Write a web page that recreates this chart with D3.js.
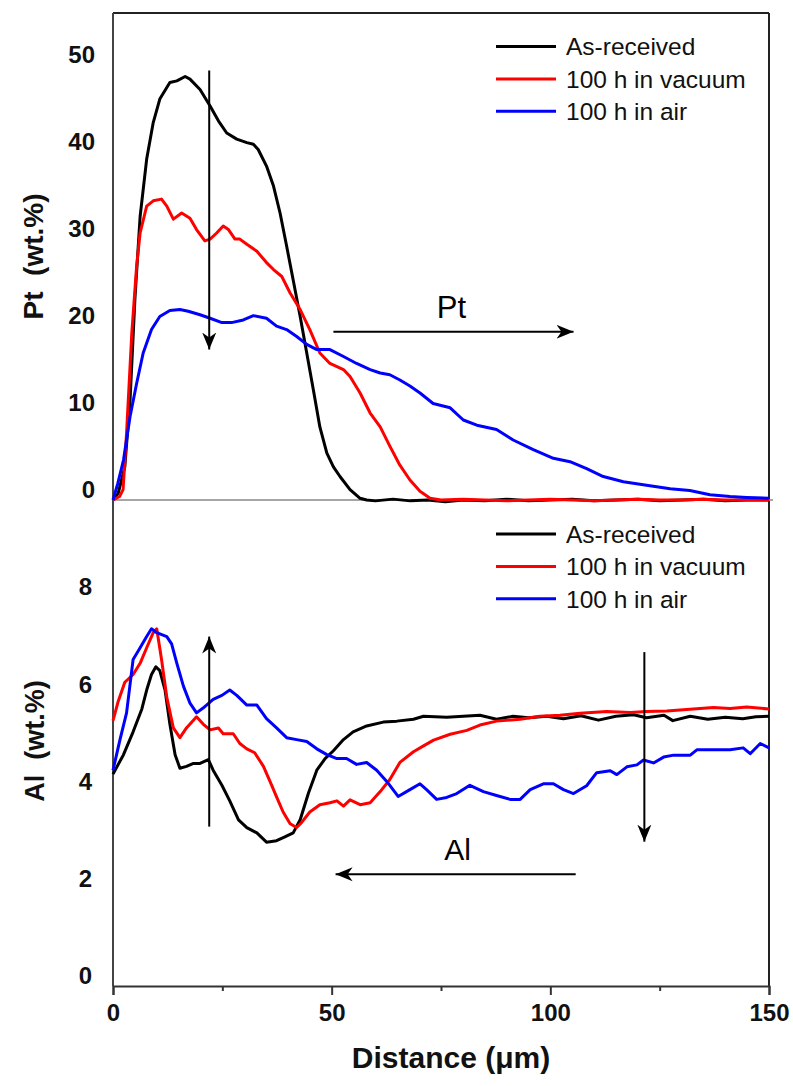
<!DOCTYPE html>
<html>
<head>
<meta charset="utf-8">
<script src="https://cdn.jsdelivr.net/npm/d3@7"></script>
<style>
  body { margin: 0; background: #fff; }
  svg { display: block; font-family: "Liberation Sans", Arial, sans-serif; }
</style>
</head>
<body>
<svg id="chart" width="793" height="1086"></svg>
<script>
// ---- data: [distance (um), wt.%] ----
var seriesNames = ["As-received", "100 h in vacuum", "100 h in air"];
var seriesColors = ["#000000", "#ff0000", "#0000ff"];

var xTicks = [0, 50, 100, 150];
var xMinorTicks = [25, 75, 125];
var ptTicks = [0, 10, 20, 30, 40, 50];
var alTicks = [0, 2, 4, 6, 8];

var ptAsReceived = [[0,0],[1.2,0.8],[2.7,3.8],[3.9,11.5],[5.0,23],[6.2,32.6],[7.7,39.2],[9.2,43.4],
  [10.7,46.1],[13,48.0],[14.6,48.2],[16.5,48.7],[17.6,48.4],[19.9,47.2],[22.2,45.3],[24.1,43.6],
  [26,42.2],[28.3,41.5],[30.6,41.1],[32.1,40.9],[33.2,40.3],[35.1,38.4],[36.7,36.1],[38.2,33.0],
  [39.7,29.2],[41.2,25.3],[42.8,21.1],[44.3,16.9],[45.8,12.7],[47.3,8.4],[48.9,5.4],[50.4,3.8],
  [51.9,2.7],[54.2,1.2],[56.5,0.2],[58,0],[60,-0.1],[64,0.1],[68,-0.1],[72,0],[76,-0.2],[80,0],
  [85,-0.1],[90,0.1],[95,-0.1],[100,0],[105,0.1],[110,-0.1],[115,0],[120,0.1],[125,-0.1],
  [130,0],[135,0.1],[140,-0.1],[145,0],[150,0]];

var ptVacuum = [[0,0],[1.5,0.4],[2.3,1.2],[3.1,7.7],[4.3,19.2],[5.4,26.9],[6.2,30.7],[7.7,33.8],
  [9.2,34.4],[11.1,34.6],[12.3,33.8],[13.8,32.3],[15.7,33.0],[17.6,32.4],[19.1,31.1],[21,29.8],
  [22.2,30.0],[23.7,30.7],[25.2,31.5],[26.4,31.1],[27.9,30.0],[29,30.0],[30.6,29.4],[32.9,28.6],
  [35.1,27.3],[36.7,26.5],[38.6,25.7],[40.5,23.8],[42.8,21.9],[45,19.6],[47.3,16.9],[49.6,15.7],
  [52.7,15.0],[54.2,14.2],[56.5,12.3],[58.8,10.0],[61.1,8.4],[63.3,6.2],[65.6,4.0],[67.9,2.3],
  [70.2,1.0],[72.5,0.2],[75,0],[80,0.1],[85,0],[90,-0.1],[95,0],[100,0.1],[105,0],[110,-0.1],
  [115,0],[120,0.1],[125,0],[130,0],[135,0.1],[140,0],[145,0],[150,0]];

var ptAir = [[0,0],[1.1,1.9],[2.4,4.6],[3.9,9.6],[5.4,13.4],[6.9,16.9],[8.8,19.6],[10.7,21.1],
  [13,21.8],[15.3,21.9],[17.2,21.7],[19.9,21.3],[22.2,20.9],[24.9,20.4],[27.1,20.4],[29.8,20.7],
  [32.1,21.2],[35.1,20.9],[37.4,20.0],[39.7,19.6],[42,18.8],[44.3,17.9],[46.6,17.3],[49.6,17.3],
  [52.7,16.5],[55.7,15.7],[58.8,15.0],[61.1,14.6],[63.3,14.4],[65.6,13.8],[67.9,13.1],[70.2,12.3],
  [73.2,11.1],[77.1,10.6],[80.1,9.2],[83.2,8.6],[87.7,8.1],[91.5,6.9],[96.1,5.8],[100.7,4.8],
  [104.5,4.4],[108.3,3.6],[112.1,2.7],[116.7,2.1],[122,1.7],[127.4,1.3],[131.9,1.1],[136.5,0.6],
  [141.1,0.4],[144.9,0.3],[150,0.2]];

var alAsReceived = [[0,4.36],[2.4,4.76],[4.6,5.23],[6.6,5.7],[7.7,6.09],[8.8,6.41],[9.8,6.57],
  [10.7,6.49],[11.9,6.09],[13,5.39],[14.2,4.76],[15.3,4.48],[16.8,4.52],[18.4,4.58],[19.9,4.58],
  [21.8,4.66],[22.9,4.44],[24.9,4.13],[26.7,3.81],[28.7,3.42],[30.6,3.26],[32.9,3.15],[35.1,2.96],
  [37.4,2.99],[39.3,3.07],[41.2,3.15],[42.8,3.42],[44.7,3.97],[46.6,4.44],[48.5,4.68],[50.4,4.84],
  [52.7,5.07],[54.9,5.23],[58,5.35],[61.8,5.43],[64.9,5.45],[68.7,5.49],[71,5.55],[76.3,5.53],
  [80.1,5.55],[83.9,5.57],[87.7,5.49],[91.5,5.55],[95,5.52],[99.2,5.55],[103,5.5],[107,5.56],
  [111,5.47],[115,5.55],[119,5.58],[122,5.52],[126,5.57],[128,5.46],[132,5.55],[136,5.49],
  [140,5.53],[144,5.5],[147,5.54],[150,5.55]];

var alVacuum = [[0,5.46],[1.2,5.86],[2.7,6.25],[4.6,6.41],[6.2,6.64],[7.7,6.96],[9.2,7.27],
  [10,7.35],[11.1,6.72],[12.3,5.94],[13.8,5.31],[15.3,5.11],[16.8,5.31],[19.1,5.54],[20.6,5.39],
  [22.2,5.27],[24.1,5.31],[25.2,5.19],[27.5,5.19],[29,4.99],[30.6,4.88],[32.4,4.8],[34.4,4.52],
  [35.9,4.21],[37.4,3.89],[38.9,3.58],[40.5,3.34],[42,3.26],[43.1,3.36],[45,3.58],[47.3,3.73],
  [49.6,3.77],[51.2,3.81],[52.7,3.70],[54.2,3.83],[56.5,3.73],[58.8,3.77],[61.1,4.0],[63.3,4.25],
  [65.6,4.6],[68.7,4.82],[71,4.94],[73.3,5.06],[77.1,5.18],[80.9,5.26],[83.9,5.37],[87.7,5.45],
  [93.1,5.49],[97.6,5.55],[102.2,5.57],[106.8,5.61],[112.9,5.65],[118.3,5.63],[122,5.65],
  [126.6,5.66],[132.7,5.7],[137.3,5.73],[141.1,5.71],[144.9,5.74],[150,5.7]];

var alAir = [[0,4.44],[1.6,5.07],[3.1,5.62],[4.6,6.72],[6.2,6.96],[7.7,7.19],[8.8,7.35],[10,7.27],
  [12.3,7.19],[13.4,7.04],[14.6,6.64],[16.1,6.17],[17.6,5.82],[19.1,5.62],[20.6,5.72],[22.9,5.9],
  [24.9,5.98],[26.7,6.09],[28.3,5.98],[30.6,5.78],[32.9,5.78],[35.1,5.5],[37.4,5.31],[39.7,5.11],
  [42,5.07],[44.3,5.03],[46.6,4.88],[48.9,4.76],[51.2,4.68],[53.4,4.68],[55.7,4.56],[58,4.6],
  [60.3,4.44],[62.6,4.21],[65.2,3.9],[67.9,4.04],[70.2,4.16],[71.7,4.04],[74,3.84],[76.3,3.88],
  [78.6,3.96],[81.6,4.13],[84.7,4.0],[87.7,3.92],[90.8,3.84],[93.1,3.84],[95.4,4.04],[98.4,4.16],
  [100.7,4.16],[103,4.04],[105.3,3.96],[108.3,4.12],[110.6,4.39],[113.7,4.43],[115.2,4.35],
  [117.5,4.51],[119.8,4.55],[121.3,4.65],[123.6,4.59],[125.9,4.71],[128.2,4.75],[132,4.75],
  [133.5,4.86],[137.3,4.86],[141.1,4.86],[144.1,4.9],[145.7,4.78],[148,4.99],[150,4.9]];

var ptSeries = [ptAsReceived, ptVacuum, ptAir];
var alSeries = [alAsReceived, alVacuum, alAir];

// annotation arrows, in data units: [x1, y1, x2, y2] (arrowhead at x2,y2)
var ptArrows = [[22, 49.4, 22, 17.3], [50.4, 19.35, 105.3, 19.35]];
var alArrows = [[22, 3.28, 22, 7.19], [121.5, 6.87, 121.5, 2.97], [105.8, 2.3, 50.9, 2.3]];
var ptLabel = {text: "Pt", x: 77.4, y: 20.9};
var alLabel = {text: "Al", x: 78.8, y: 2.6};

// ---- chart ----
var svg = d3.select("#chart");
svg.append("rect").attr("width", 793).attr("height", 1086).attr("fill", "#fff");

var x = d3.scaleLinear().domain([0, 150]).range([113, 769]);
var yPt = d3.scaleLinear().domain([0, 56]).range([500, 13]);
var yAl = d3.scaleLinear().domain([0, 10]).range([986, 500]);

var defs = svg.append("defs");
defs.append("marker")
  .attr("id", "head")
  .attr("markerUnits", "userSpaceOnUse")
  .attr("viewBox", "0 0 18 16")
  .attr("markerWidth", 18).attr("markerHeight", 16)
  .attr("refX", 17).attr("refY", 8)
  .attr("orient", "auto")
  .append("path")
  .attr("d", "M0,1 L17,8 L0,15 L5,8 Z")
  .attr("fill", "#000");

// frame
var frame = svg.append("g").attr("class", "frame");
frame.append("line").attr("x1", x(0)).attr("x2", x(150)).attr("y1", yPt(56)).attr("y2", yPt(56))
  .attr("stroke", "#222").attr("stroke-width", 2);
frame.append("line").attr("x1", x(150)).attr("x2", x(150)).attr("y1", yPt(56)).attr("y2", yAl(0))
  .attr("stroke", "#222").attr("stroke-width", 2);
frame.append("line").attr("x1", x(0)).attr("x2", x(0)).attr("y1", yPt(56)).attr("y2", yAl(0))
  .attr("stroke", "#444").attr("stroke-width", 2);
frame.append("line").attr("x1", x(0)).attr("x2", x(150) + 4).attr("y1", yPt(0)).attr("y2", yPt(0))
  .attr("stroke", "#888").attr("stroke-width", 1.5);

// y axes (labels sit a little above their values, as in the figure)
var ptAxis = svg.append("g")
  .attr("transform", "translate(" + x(0) + ",0)")
  .call(d3.axisLeft(yPt).tickValues(ptTicks).tickSize(0).tickPadding(18));
var alAxis = svg.append("g")
  .attr("transform", "translate(" + x(0) + ",0)")
  .call(d3.axisLeft(yAl).tickValues(alTicks).tickSize(0).tickPadding(21));
[ptAxis, alAxis].forEach(function(a) {
  a.select(".domain").remove();
  a.selectAll("text")
    .attr("transform", "translate(0,-10)")
    .attr("font-size", 24).attr("font-weight", "bold")
    .attr("font-family", "Liberation Sans, Arial, sans-serif")
    .attr("fill", "#111");
});

// x axis
var xAxis = svg.append("g")
  .attr("transform", "translate(0," + yAl(0) + ")")
  .call(d3.axisBottom(x).tickValues(xTicks).tickSize(9).tickPadding(9));
xAxis.select(".domain").attr("stroke", "#333").attr("stroke-width", 2);
xAxis.selectAll(".tick line").attr("stroke", "#333").attr("stroke-width", 2);
xAxis.selectAll("text")
  .attr("font-size", 24).attr("font-weight", "bold")
  .attr("font-family", "Liberation Sans, Arial, sans-serif")
  .attr("fill", "#111");
svg.append("g")
  .attr("transform", "translate(0," + yAl(0) + ")")
  .call(d3.axisBottom(x).tickValues(xMinorTicks).tickSize(5).tickFormat(""))
  .call(function(g) {
    g.select(".domain").remove();
    g.selectAll("line").attr("stroke", "#333").attr("stroke-width", 2);
  });

// axis titles
svg.append("text")
  .attr("transform", "translate(33," + (yPt(56) + yPt(0)) / 2 + ") rotate(-90)")
  .attr("text-anchor", "middle").attr("dominant-baseline", "central")
  .attr("font-size", 28).attr("font-weight", "bold").attr("fill", "#111")
  .attr("xml:space", "preserve")
  .text("Pt  (wt.%)");
svg.append("text")
  .attr("transform", "translate(35,741) rotate(-90)")
  .attr("text-anchor", "middle").attr("dominant-baseline", "central")
  .attr("font-size", 27).attr("font-weight", "bold").attr("fill", "#111")
  .attr("xml:space", "preserve")
  .text("Al  (wt.%)");
svg.append("text")
  .attr("x", 451).attr("y", 1068)
  .attr("text-anchor", "middle")
  .attr("font-size", 30).attr("font-weight", "bold").attr("fill", "#111")
  .text("Distance (\u03bcm)");

// curves
var ptLine = d3.line().x(function(d) { return x(d[0]); }).y(function(d) { return yPt(d[1]); });
var alLine = d3.line().x(function(d) { return x(d[0]); }).y(function(d) { return yAl(d[1]); });

svg.append("g").selectAll("path")
  .data(ptSeries)
  .enter().append("path")
  .attr("d", ptLine)
  .attr("fill", "none")
  .attr("stroke", function(d, i) { return seriesColors[i]; })
  .attr("stroke-width", 3)
  .attr("stroke-linejoin", "round");

svg.append("g").selectAll("path")
  .data(alSeries)
  .enter().append("path")
  .attr("d", alLine)
  .attr("fill", "none")
  .attr("stroke", function(d, i) { return seriesColors[i]; })
  .attr("stroke-width", 3)
  .attr("stroke-linejoin", "round");

// arrows + labels
function drawArrows(list, y) {
  svg.append("g").selectAll("line")
    .data(list)
    .enter().append("line")
    .attr("x1", function(d) { return x(d[0]); })
    .attr("y1", function(d) { return y(d[1]); })
    .attr("x2", function(d) { return x(d[2]); })
    .attr("y2", function(d) { return y(d[3]); })
    .attr("stroke", "#000").attr("stroke-width", 2)
    .attr("marker-end", "url(#head)");
}
drawArrows(ptArrows, yPt);
drawArrows(alArrows, yAl);

svg.append("text").attr("x", x(ptLabel.x)).attr("y", yPt(ptLabel.y))
  .attr("text-anchor", "middle").attr("font-size", 31).attr("fill", "#000")
  .text(ptLabel.text);
svg.append("text").attr("x", x(alLabel.x)).attr("y", yAl(alLabel.y))
  .attr("text-anchor", "middle").attr("font-size", 30).attr("fill", "#000")
  .text(alLabel.text);

// legends
function legend(top) {
  var g = svg.append("g").attr("transform", "translate(0," + top + ")");
  var rows = g.selectAll("g").data(seriesNames).enter().append("g")
    .attr("transform", function(d, i) { return "translate(0," + i * 32.4 + ")"; });
  rows.append("line")
    .attr("x1", 496).attr("x2", 556)
    .attr("stroke", function(d, i) { return seriesColors[i]; })
    .attr("stroke-width", 3);
  rows.append("text")
    .attr("x", 566).attr("dy", "0.36em")
    .attr("font-size", 24.5).attr("fill", "#111")
    .text(function(d) { return d; });
}
legend(46.5);
legend(534);
</script>
</body>
</html>
